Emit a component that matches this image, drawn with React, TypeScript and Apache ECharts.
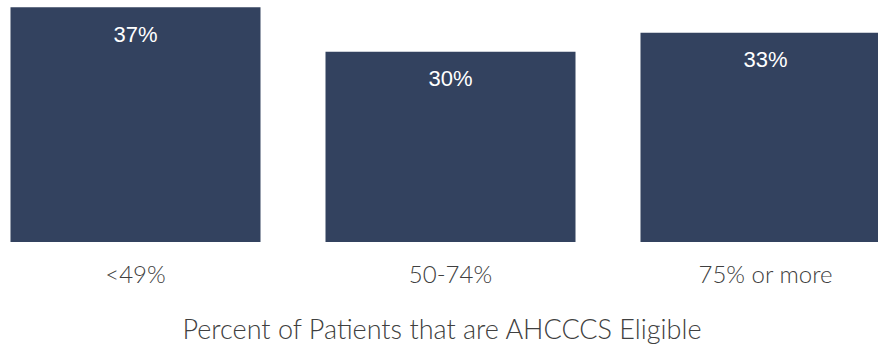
import React, { useEffect, useRef } from "react";
import * as echarts from "echarts";

// Share of patients by AHCCCS-eligibility band
const categories = ["<49%", "50-74%", "75% or more"];
const shares = [37, 30, 33];
const axisTitle = "Percent of Patients that are AHCCCS Eligible";

const BAR_COLOR = "#33425f";
const TEXT_GREY = "#404040";

// The plot is wider than the viewport; the last bar runs off the right edge.
const PLOT_OFFSET = -22;
const PLOT_WIDTH = 945;

export default function App() {
  const ref = useRef<HTMLDivElement>(null);

  useEffect(() => {
    if (!ref.current) return;
    const chart = echarts.init(ref.current, undefined, { renderer: "svg" });
    chart.setOption({
      animation: false,
      grid: { left: 0, right: 0, top: 1, height: 241, outerBoundsMode: "none" },
      xAxis: {
        type: "category",
        data: categories,
        axisLine: { show: false },
        axisTick: { show: false },
        axisLabel: {
          margin: 19,
          fontFamily: "Lato",
          fontWeight: 300,
          fontSize: 24,
          color: TEXT_GREY,
        },
      },
      yAxis: {
        type: "value",
        min: 0,
        max: 38,
        show: false,
        splitLine: { show: false },
      },
      series: [
        {
          type: "bar",
          data: shares,
          barWidth: 250,
          itemStyle: { color: BAR_COLOR },
          label: {
            show: true,
            position: "insideTop",
            distance: 16,
            formatter: "{c}%",
            color: "#ffffff",
            fontFamily: "Liberation Sans",
            fontSize: 22,
          },
        },
      ],
      graphic: [
        {
          type: "text",
          x: 442 - PLOT_OFFSET,
          y: 328,
          style: {
            text: axisTitle,
            align: "center",
            verticalAlign: "middle",
            fontFamily: "Lato",
            fontWeight: 300,
            fontSize: 27,
            fill: TEXT_GREY,
          },
        },
      ],
    });
    return () => chart.dispose();
  }, []);

  return (
    <div style={{ position: "fixed", left: 0, top: 0, width: 878, height: 345, overflow: "hidden", background: "#ffffff" }}>
      <div ref={ref} style={{ position: "absolute", left: PLOT_OFFSET, top: 0, width: PLOT_WIDTH, height: 345 }} />
    </div>
  );
}
